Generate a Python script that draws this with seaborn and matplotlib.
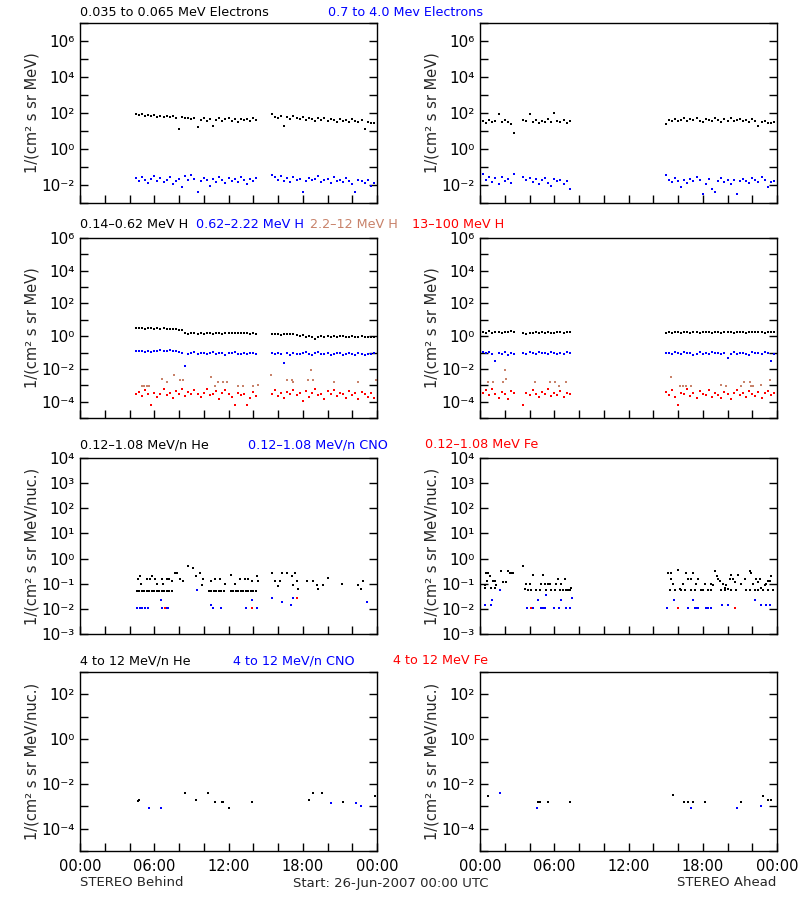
import numpy as np
import pandas as pd
import matplotlib
matplotlib.use("Agg")
import matplotlib.pyplot as plt
import seaborn as sns
from matplotlib.ticker import FixedLocator, FuncFormatter, NullLocator

# ---------------------------------------------------------------- data
# Sampling cadence of the dense (time series) channels, hours
CADENCE = 0.25
# segment start hours and number of samples per segment
SEG_B_START = [4.5, 15.5]
SEG_B_N = [40, 34]
SEG_A_START = [0.25, 3.5, 15.0]
SEG_A_N = [11, 16, 36]

# Row 1: electrons, log10 flux  (Behind)
e_lo_behind = [1.92,1.88,1.95,1.86,1.90,1.82,1.88,1.80,1.85,1.78,1.84,1.76,1.82,1.72,1.10,1.78,1.70,1.75,1.66,1.72,
               1.24,1.62,1.70,1.58,1.66,1.28,1.60,1.70,1.55,1.65,1.72,1.58,1.64,1.52,1.68,1.60,1.66,1.56,1.70,1.62,
               1.95,1.80,1.72,1.85,1.30,1.76,1.68,1.82,1.70,1.64,1.78,1.60,1.72,1.66,1.58,1.70,1.62,1.74,1.56,1.66,
               1.60,1.52,1.68,1.58,1.62,1.50,1.64,1.55,1.48,1.60,1.10,1.52,1.45,1.42]
e_hi_behind = [-1.62,-1.80,-1.55,-1.72,-1.90,-1.66,-1.48,-1.78,-1.60,-1.85,-1.70,-1.58,-1.92,-1.75,-1.64,-2.10,-1.52,-1.70,-1.45,-1.68,
               -2.37,-1.80,-1.60,-1.74,-2.05,-1.66,-1.82,-1.55,-1.72,-1.90,-1.62,-1.78,-1.68,-1.85,-1.58,-1.74,-1.95,-1.66,-1.80,-1.60,
               -1.45,-1.55,-1.70,-1.50,-1.78,-1.62,-1.85,-1.58,-1.72,-1.66,-2.37,-1.80,-1.60,-1.74,-1.68,-1.52,-1.82,-1.70,-1.64,-1.90,
               -1.58,-1.76,-1.72,-1.85,-1.62,-1.80,-1.95,-2.37,-1.70,-1.78,-1.88,-1.74,-2.05,-1.90]
# Row 1: electrons (Ahead)
e_lo_ahead = [1.55,1.45,1.62,1.50,1.58,1.94,1.48,1.60,1.52,1.40,0.90,
              1.62,1.55,1.94,1.50,1.60,1.45,1.58,1.52,1.65,1.48,2.00,1.56,1.50,1.62,1.46,1.55,
              1.40,1.62,1.55,1.68,1.58,1.62,1.70,1.56,1.64,1.60,1.72,1.58,1.52,1.66,1.60,1.55,1.70,1.62,1.50,1.66,
              1.58,1.72,1.54,1.62,1.68,1.56,1.60,1.52,1.66,1.58,1.26,1.50,1.55,1.46,1.42,1.48]
e_hi_ahead = [-1.40,-1.72,-1.58,-1.85,-1.62,-1.95,-1.55,-1.78,-1.66,-1.90,-1.40,
              -1.55,-1.70,-1.62,-1.85,-1.68,-1.95,-1.74,-1.60,-1.88,-2.05,-1.66,-1.80,-1.72,-1.95,-1.78,-2.20,
              -1.45,-1.72,-1.85,-1.62,-1.78,-2.10,-1.70,-1.88,-1.66,-1.80,-1.58,-1.74,-2.50,-1.92,-1.68,-2.20,-2.40,-1.76,-1.62,-1.85,
              -1.70,-1.95,-1.72,-2.50,-1.80,-1.66,-1.78,-1.90,-1.60,-1.74,-1.85,-1.55,-1.70,-2.10,-1.82,-1.76]

# Row 2: protons, log10 flux (Behind)
h1_behind = [0.48,0.47,0.49,0.46,0.48,0.47,0.45,0.48,0.46,0.47,0.44,0.46,0.43,0.45,0.40,0.36,0.20,0.14,0.18,0.22,
             0.12,0.18,0.16,0.20,0.17,0.15,0.19,0.18,0.16,0.20,0.18,0.22,0.17,0.19,0.21,0.18,0.20,0.16,0.19,0.12,
             0.14,0.12,0.16,0.10,0.13,0.15,0.11,0.12,0.08,0.04,0.06,-0.08,0.00,-0.03,-0.20,-0.02,0.02,-0.05,0.00,-0.03,
             0.01,-0.04,-0.01,0.03,-0.02,-0.06,0.00,-0.03,-0.05,-0.01,-0.04,-0.02,-0.06,-0.03]
h2_behind = [-0.90,-0.93,-0.88,-0.94,-0.91,-0.95,-0.89,-0.92,-0.87,-0.93,-0.90,-0.85,-0.92,-0.88,-0.96,-1.02,-1.80,-1.08,-1.03,-0.98,
             -1.10,-1.04,-1.00,-1.07,-1.02,-0.97,-1.08,-1.03,-1.00,-1.12,-1.05,-1.01,-0.98,-1.06,-1.10,-1.02,-1.07,-1.00,-1.04,-1.08,
             -1.05,-1.10,-1.02,-1.08,-1.66,-1.04,-1.12,-1.00,-1.06,-1.10,-1.03,-0.98,-1.08,-1.12,-1.04,-0.96,-1.10,-1.06,-1.02,-1.14,
             -1.08,-1.00,-1.05,-1.12,-1.07,-1.03,-1.10,-1.15,-1.04,-1.08,-1.12,-1.06,-1.10,-1.02]
h4_behind = [-3.52,-3.40,-3.65,-3.30,-3.52,-4.18,-3.45,-3.70,-3.52,-3.25,-3.60,-3.45,-3.78,-3.35,-3.52,-3.20,-3.65,-3.40,-3.52,-3.30,
             -3.52,-3.70,-3.45,-3.25,-3.60,-3.52,-3.38,-3.82,-3.48,-3.30,-3.55,-3.70,-4.18,-3.45,-3.62,-3.52,-4.18,-3.80,-3.40,-3.65,
             -3.52,-3.30,-3.65,-3.45,-3.75,-3.40,-3.55,-3.28,-3.62,-3.50,-3.98,-3.35,-3.70,-3.48,-3.25,-3.60,-3.52,-3.82,-3.38,-3.55,
             -3.30,-3.68,-3.45,-3.52,-3.75,-3.32,-3.60,-3.48,-3.85,-3.40,-3.55,-3.70,-3.45,-3.80]
h3_behind_t = [4.98,5.20,5.39,5.58,6.60,7.00,7.62,8.08,8.35,10.58,10.91,11.17,11.58,11.85,12.79,13.20,14.00,14.36,
               15.43,16.70,17.10,17.24,18.40,18.64,18.85,20.55,22.49,23.89]
h3_behind = [-3.07,-3.07,-3.07,-3.07,-2.60,-2.77,-2.36,-2.67,-2.67,-2.50,-3.07,-2.77,-2.77,-2.77,-3.07,-3.07,-3.07,-2.97,
             -2.36,-2.67,-2.67,-2.81,-2.67,-2.06,-2.67,-2.81,-2.81,-2.67]

# Row 2: protons (Ahead)
h1_ahead = [0.26,0.22,0.30,0.18,0.28,0.24,0.20,0.27,0.25,0.29,0.23,
            0.18,0.16,0.22,0.20,0.24,0.19,0.23,0.21,0.25,0.22,0.20,0.24,0.23,0.21,0.25,0.24,
            0.22,0.25,0.20,0.26,0.23,0.21,0.27,0.24,0.22,0.26,0.25,0.21,0.24,0.27,0.23,0.20,0.26,0.24,0.22,0.27,
            0.25,0.23,0.21,0.26,0.24,0.27,0.22,0.25,0.28,0.23,0.26,0.24,0.21,0.27,0.25,0.23]
h2_ahead = [-0.95,-1.05,-0.98,-1.10,-1.53,-1.00,-1.08,-0.96,-1.12,-1.02,-1.06,
            -1.02,-1.08,-0.98,-1.05,-1.10,-0.96,-1.04,-1.00,-1.08,-0.95,-1.02,-1.10,-1.00,-1.06,-0.98,-1.04,
            -1.02,-1.00,-1.06,-0.96,-1.04,-1.10,-0.98,-1.05,-1.00,-1.12,-1.06,-0.97,-1.08,-1.03,-1.10,-0.95,-1.05,-1.00,-1.08,-1.02,
            -1.33,-1.06,-0.98,-1.10,-1.04,-1.00,-1.07,-1.12,-0.98,-1.05,-1.02,-1.08,-0.96,-1.04,-1.50,-1.06]
h4_ahead = [-3.45,-3.30,-3.60,-3.20,-3.52,-3.75,-3.40,-3.55,-3.85,-3.35,-3.50,
            -4.18,-3.45,-3.62,-3.30,-3.52,-3.70,-3.40,-3.55,-3.25,-3.65,-3.48,-3.60,-3.35,-3.70,-3.45,-3.55,
            -3.40,-3.60,-3.30,-3.70,-4.18,-3.45,-3.55,-3.25,-3.65,-3.48,-3.80,-3.35,-3.52,-3.62,-3.30,-3.70,-3.45,-3.58,-3.75,-3.40,
            -3.52,-3.85,-3.48,-3.30,-3.62,-3.45,-3.70,-3.38,-3.55,-3.65,-3.42,-3.75,-3.50,-3.35,-3.60,-3.48]
h3_ahead_t = [0.65,1.05,1.86,1.99,2.07,4.42,5.63,6.09,6.36,6.98,15.46,16.13,16.40,16.67,17.08,19.50,19.90,21.10,
              21.30,21.80,21.93,22.06,22.73,23.40]
h3_ahead = [-2.81,-2.81,-2.81,-2.06,-2.60,-2.77,-2.77,-2.77,-3.07,-2.77,-2.47,-3.07,-3.07,-3.07,-3.07,-2.97,-3.07,-3.07,
            -2.77,-2.77,-3.07,-3.07,-2.97,-2.67]

# Row 3: 0.12-1.08 MeV/n heavy ions (Behind)
he_lo_behind_t = [4.6,4.8,5.0,5.2,5.4,5.6,5.8,6.0,6.2,6.4,6.6,6.8,7.0,7.2,7.4,
                  10.4,10.6,10.8,11.0,11.2,11.4,11.6,12.2,12.4,12.6,12.8,13.0,13.2,13.4,13.6,13.8,14.0,14.2,
                  4.71,4.85,4.93,5.39,5.66,5.79,6.06,6.19,6.60,6.73,7.00,7.22,7.41,7.68,7.81,8.08,8.35,8.75,9.16,9.37,9.67,
                  9.97,9.89,10.56,10.91,11.31,11.72,12.20,12.53,12.93,13.33,13.60,13.87,14.28,14.36,15.49,15.76,15.97,
                  16.16,16.30,16.70,17.10,17.24,17.37,17.51,17.64,18.32,18.85,19.12,19.21,19.66,20.07,21.14,22.49,22.71,22.87]
he_lo_behind = [-1.29]*15 + [-1.29]*18 + \
               [-0.83,-0.71,-1.00,-0.83,-0.83,-0.70,-0.83,-1.00,-0.83,-1.00,-0.83,-0.80,-0.91,-0.58,-0.58,-0.83,-0.91,-0.28,-0.38,
                -0.71,-0.58,-0.80,-1.07,-0.91,-0.83,-0.83,-1.00,-0.67,-1.00,-0.83,-0.83,-0.83,-0.91,-0.70,-0.91,-0.58,-0.91,-1.11,
                -0.91,-0.58,-0.58,-0.71,-1.07,-0.58,-0.91,-1.20,-0.91,-0.91,-1.07,-1.20,-1.07,-0.78,-1.01,-1.07,-1.22,-0.91]
cno_lo_behind_t = [4.63,4.85,5.04,5.25,5.52,6.52,6.60,7.00,7.14,9.43,10.59,10.77,11.39,13.39,13.87,14.28,15.49,16.30,17.02,17.24,23.17]
cno_lo_behind = [-1.96,-1.96,-1.96,-1.96,-1.96,-1.65,-1.96,-1.96,-1.96,-1.26,-1.86,-1.96,-1.96,-1.96,-1.65,-1.96,-1.55,-1.74,-1.86,-1.55,-1.72]
fe_lo_behind_t = [6.87, 13.87, 17.51]
fe_lo_behind = [-1.96, -1.96, -1.55]

# Row 3 (Ahead)
he_lo_ahead_t = [0.38,0.43,0.51,0.65,0.59,0.78,0.92,1.05,1.19,1.19,1.32,1.67,1.86,2.13,2.26,2.40,2.53,2.67,
                 3.47,3.61,3.74,3.88,4.01,4.15,4.28,4.55,4.82,4.96,5.09,5.23,5.36,5.49,5.63,5.76,6.03,6.17,6.30,6.44,
                 6.57,6.71,6.84,6.98,7.11,7.25,7.38,
                 15.19,15.46,15.41,15.60,15.73,16.00,16.13,16.40,16.67,16.81,17.08,17.21,17.35,17.48,17.62,17.89,18.16,
                 18.42,18.69,18.83,19.02,19.18,19.23,19.37,19.50,19.64,19.77,19.91,20.04,20.18,20.31,20.44,20.58,20.71,
                 20.85,21.12,21.39,21.52,21.79,21.87,22.06,22.19,22.33,22.46,22.60,22.73,22.87,23.00,23.14,23.27,23.41,
                 23.54,23.68,15.33,16.27,16.54,17.08,18.02,18.69,19.77,20.31,21.79,22.46,23.27]
he_lo_ahead = [-1.04,-1.17,-0.58,-0.58,-0.91,-0.70,-1.17,-0.91,-0.91,-1.17,-1.04,-0.50,-0.94,-0.94,-0.50,-0.58,-0.58,-0.58,
               -0.28,-1.20,-1.00,-1.26,-1.00,-1.26,-0.67,-1.26,-1.26,-1.00,-0.67,-1.00,-1.26,-1.00,-1.00,-1.26,-1.26,-1.00,-0.83,-1.26,
               -1.00,-1.26,-0.83,-1.26,-1.26,-1.26,-1.16,
               -0.58,-0.58,-0.83,-1.00,-1.26,-0.44,-1.20,-1.00,-0.58,-0.83,-0.83,-0.58,-1.26,-1.00,-0.83,-1.26,-1.00,
               -1.26,-1.00,-1.07,-0.48,-0.70,-0.83,-0.91,-1.26,-1.00,-1.17,-1.07,-1.20,-0.83,-0.67,-0.83,-0.94,-1.26,
               -0.67,-1.00,-0.83,-1.26,-0.48,-0.58,-1.00,-1.26,-0.83,-0.94,-0.83,-1.17,-1.26,-1.07,-1.00,-0.91,-0.91,
               -0.70,-1.26,-1.26,-1.26,-1.26,-1.26,-1.26,-1.26,-1.26,-1.26,-1.26,-1.26,-1.26]
cno_lo_ahead_t = [0.38,0.86,0.97,1.59,3.80,4.28,4.69,4.96,5.09,5.23,5.36,5.98,6.36,6.52,6.98,7.25,7.43,
                  15.14,15.68,16.81,17.21,17.35,17.48,17.62,18.29,18.42,18.69,19.55,20.04,22.19,22.73,23.14,23.46]
cno_lo_ahead = [-1.86,-1.86,-1.63,-1.24,-1.96,-1.96,-1.63,-1.96,-1.96,-1.96,-1.46,-1.96,-1.96,-1.63,-1.96,-1.96,-1.55,
                -1.96,-1.63,-1.96,-1.63,-1.96,-1.96,-1.96,-1.96,-1.96,-1.96,-1.86,-1.86,-1.63,-1.86,-1.86,-1.86]
fe_lo_ahead_t = [4.09, 16.00, 20.58]
fe_lo_ahead = [-1.96, -1.96, -1.96]

# Row 4: 4-12 MeV/n heavy ions
he_hi_behind_t = [4.66,4.80,8.48,9.37,10.37,10.91,11.45,11.58,12.07,13.87,18.53,18.86,19.53,21.23,23.84]
he_hi_behind = [-2.75,-2.71,-2.39,-2.71,-2.39,-2.79,-2.79,-2.79,-3.10,-2.79,-2.71,-2.39,-2.39,-2.79,-2.56]
cno_hi_behind_t = [5.58,6.55,20.26,22.30,22.68]
cno_hi_behind = [-3.10,-3.10,-2.87,-2.87,-3.01]
he_hi_ahead_t = [0.62,4.66,4.85,5.47,7.27,15.57,16.51,16.84,17.24,18.18,21.09,22.89,23.30,23.49]
he_hi_ahead = [-2.56,-2.79,-2.79,-2.79,-2.79,-2.50,-2.79,-2.79,-2.79,-2.79,-2.79,-2.56,-2.71,-2.71]
cno_hi_ahead_t = [1.62,4.58,17.03,20.75,22.68]
cno_hi_ahead = [-2.39,-3.10,-3.10,-3.10,-3.01]

# Labels
ROSY = "#c8826a"
row_titles = [
    [("0.035 to 0.065 MeV Electrons", "black", 80), ("0.7 to 4.0 Mev Electrons", "blue", 328)],
    [("0.14\u20130.62 MeV H", "black", 80), ("0.62\u20132.22 MeV H", "blue", 196),
     ("2.2\u201312 MeV H", ROSY, 310), ("13\u2013100 MeV H", "red", 412)],
    [("0.12\u20131.08 MeV/n He", "black", 80), ("0.12\u20131.08 MeV/n CNO", "blue", 248),
     ("0.12\u20131.08 MeV Fe", "red", 425)],
    [("4 to 12 MeV/n He", "black", 80), ("4 to 12 MeV/n CNO", "blue", 233), ("4 to 12 MeV Fe", "red", 393)],
]
x_tick_labels = ["00:00", "06:00", "12:00", "18:00", "00:00"]
ylabels = ["1/(cm\u00b2 s sr MeV)", "1/(cm\u00b2 s sr MeV)", "1/(cm\u00b2 s sr MeV/nuc.)", "1/(cm\u00b2 s sr MeV/nuc.)"]
ylims = [(1e-3, 1e7), (1e-5, 1e6), (1e-3, 1e4), (1e-5, 1e3)]
label_every = [2, 2, 1, 2]

# ---------------------------------------------------------------- helpers
SUP = str.maketrans("-0123456789", "\u207b\u2070\u00b9\u00b2\u00b3\u2074\u2075\u2076\u2077\u2078\u2079")

def seg_times(starts, counts):
    return np.concatenate([s + CADENCE * np.arange(n) for s, n in zip(starts, counts)])

tB = seg_times(SEG_B_START, SEG_B_N)
tA = seg_times(SEG_A_START, SEG_A_N)

def dots(ax, t, logv, color, size=3.2):
    df = pd.DataFrame({"t": np.asarray(t, float), "v": 10.0 ** np.asarray(logv, float)})
    sns.scatterplot(data=df, x="t", y="v", color=color, marker="s", s=size,
                    linewidth=0, ax=ax, legend=False)

# ---------------------------------------------------------------- figure
sns.set_style("white")
plt.rcParams['font.family'] = ['DejaVu Sans']

fig = plt.figure(figsize=(8, 9), dpi=100)
W, H = 800.0, 900.0
rows_px = [(23, 203), (238, 418), (458, 634), (672, 851)]
cols_px = [(80, 377), (480, 777)]

axes = []
for r, (yt, yb) in enumerate(rows_px):
    row = []
    for c, (xl, xr) in enumerate(cols_px):
        ax = fig.add_axes([xl / W, 1 - yb / H, (xr - xl) / W, (yb - yt) / H])
        row.append(ax)
    axes.append(row)

series = [
    [[(tB, e_lo_behind, "black"), (tB, e_hi_behind, "blue")],
     [(tA, e_lo_ahead, "black"), (tA, e_hi_ahead, "blue")]],
    [[(tB, h1_behind, "black"), (tB, h2_behind, "blue"), (h3_behind_t, h3_behind, ROSY), (tB, h4_behind, "red")],
     [(tA, h1_ahead, "black"), (tA, h2_ahead, "blue"), (h3_ahead_t, h3_ahead, ROSY), (tA, h4_ahead, "red")]],
    [[(he_lo_behind_t, he_lo_behind, "black"), (cno_lo_behind_t, cno_lo_behind, "blue"), (fe_lo_behind_t, fe_lo_behind, "red")],
     [(he_lo_ahead_t, he_lo_ahead, "black"), (cno_lo_ahead_t, cno_lo_ahead, "blue"), (fe_lo_ahead_t, fe_lo_ahead, "red")]],
    [[(he_hi_behind_t, he_hi_behind, "black"), (cno_hi_behind_t, cno_hi_behind, "blue")],
     [(he_hi_ahead_t, he_hi_ahead, "black"), (cno_hi_ahead_t, cno_hi_ahead, "blue")]],
]

for r in range(4):
    lo, hi = ylims[r]
    e0, e1 = int(np.log10(lo)), int(np.log10(hi))
    decades = list(range(e0, e1 + 1))
    step = label_every[r]
    for c in range(2):
        ax = axes[r][c]
        for t, v, col in series[r][c]:
            dots(ax, t, v, col)
        ax.set_yscale("log")
        ax.set_ylim(lo, hi)
        ax.set_xlim(0, 24)
        ax.yaxis.set_major_locator(FixedLocator([10.0 ** d for d in decades]))
        ax.yaxis.set_minor_locator(NullLocator())

        def fmt(val, pos, step=step):
            d = int(round(np.log10(val)))
            return "10" + str(d).translate(SUP) if d % step == 0 else ""
        ax.yaxis.set_major_formatter(FuncFormatter(fmt))
        ax.xaxis.set_major_locator(FixedLocator([0, 6, 12, 18, 24]))
        ax.xaxis.set_minor_locator(FixedLocator([2, 4, 8, 10, 14, 16, 20, 22]))
        ax.tick_params(axis="both", which="both", direction="in", length=6, width=1,
                       top=False, right=True, left=True, bottom=True, colors="black")
        ax.tick_params(axis="y", labelsize=11, pad=4)
        ax.tick_params(axis="x", labelsize=10.5, pad=6)
        if r == 3:
            ax.set_xticklabels(x_tick_labels)
        else:
            ax.set_xticklabels([])
        ax.set_xlabel("")
        ax.set_ylabel(ylabels[r], fontsize=10.5, va="center")
        ax.yaxis.set_label_coords(-(80 - 32) / 297.0, 0.5)
        for sp in ax.spines.values():
            sp.set_visible(True)
            sp.set_color("black")
            sp.set_linewidth(1.0)

title_y = [13, 225, 445, 661]
for r in range(4):
    for text, col, xp in row_titles[r]:
        fig.text(xp / W, 1 - title_y[r] / H, text, color=col, fontsize=9.2, ha="left", va="center")

fig.text(80 / W, 1 - 883 / H, "STEREO Behind", fontsize=9.5, ha="left", va="center")
fig.text(293 / W, 1 - 883 / H, "Start: 26-Jun-2007 00:00 UTC", fontsize=9.5, ha="left", va="center")
fig.text(776 / W, 1 - 883 / H, "STEREO Ahead", fontsize=9.5, ha="right", va="center")

fig.savefig("out.png", dpi=100, facecolor="white")
